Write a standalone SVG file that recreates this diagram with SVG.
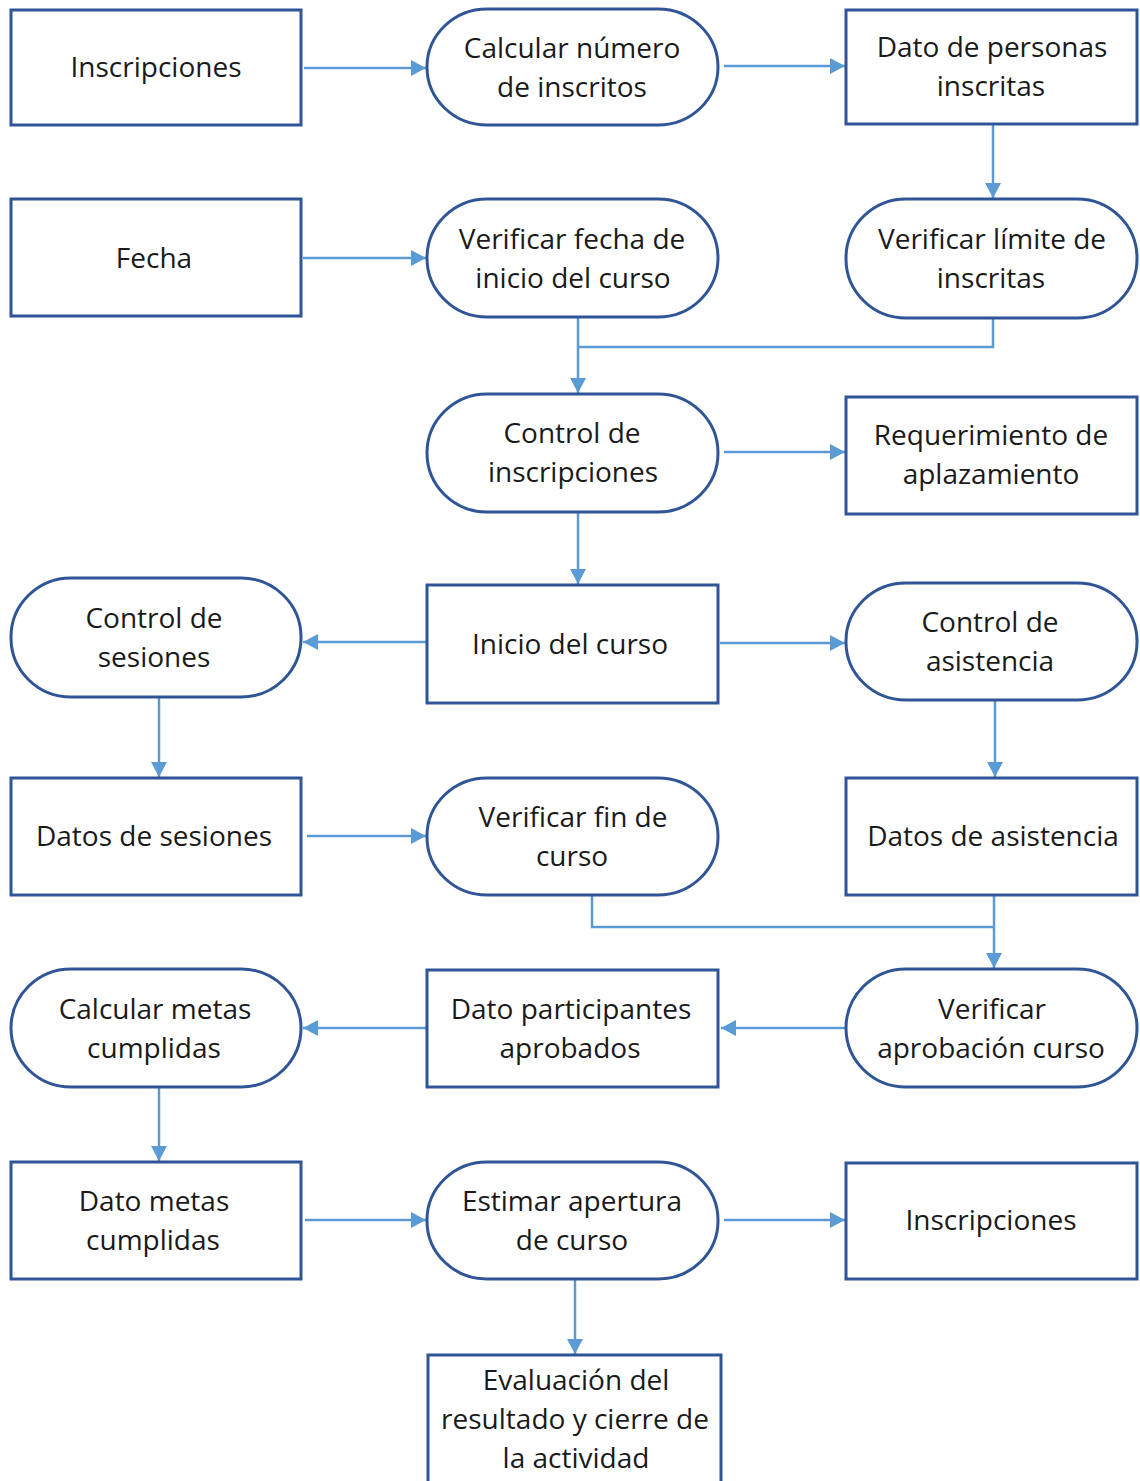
<svg xmlns="http://www.w3.org/2000/svg" width="1140" height="1481" viewBox="0 0 1140 1481">
  <style>
    .box { fill: #ffffff; stroke: #2f5597; stroke-width: 3; }
    .lbl { font-family: "Open Sans", "Liberation Sans", sans-serif; font-size: 28px; fill: #1a1a1a; text-anchor: middle; }
    .conn { fill: none; stroke: #5b9bd5; stroke-width: 2.5; }
    .arrow { marker-end: url(#head); }
  </style>
  <defs>
    <marker id="head" markerUnits="userSpaceOnUse" markerWidth="15" markerHeight="16" refX="15" refY="8" orient="auto">
      <path d="M0,0 L15,8 L0,16 z" fill="#5b9bd5"/>
    </marker>
  </defs>
  <rect width="1140" height="1481" fill="#ffffff"/>

  <!-- connectors -->
  <g id="connectors">
    <line class="conn arrow" x1="304" y1="68" x2="426" y2="68"/>
    <line class="conn arrow" x1="724" y1="66" x2="845" y2="66"/>
    <line class="conn arrow" x1="993" y1="125" x2="993" y2="198"/>
    <line class="conn arrow" x1="303" y1="258" x2="426" y2="258"/>
    <polyline class="conn" points="993,318 993,347 578,347"/>
    <line class="conn arrow" x1="578" y1="317" x2="578" y2="393"/>
    <line class="conn arrow" x1="724" y1="452" x2="845" y2="452"/>
    <line class="conn arrow" x1="578" y1="512" x2="578" y2="584"/>
    <line class="conn arrow" x1="426" y1="642" x2="303" y2="642"/>
    <line class="conn arrow" x1="720" y1="643" x2="845" y2="643"/>
    <line class="conn arrow" x1="159" y1="697" x2="159" y2="777"/>
    <line class="conn arrow" x1="995" y1="700" x2="995" y2="777"/>
    <line class="conn arrow" x1="307" y1="836" x2="426" y2="836"/>
    <polyline class="conn" points="592,895 592,927 994,927"/>
    <line class="conn arrow" x1="994" y1="895" x2="994" y2="968"/>
    <line class="conn arrow" x1="845" y1="1028" x2="721" y2="1028"/>
    <line class="conn arrow" x1="426" y1="1028" x2="303" y2="1028"/>
    <line class="conn arrow" x1="159" y1="1087" x2="159" y2="1161"/>
    <line class="conn arrow" x1="305" y1="1220" x2="426" y2="1220"/>
    <line class="conn arrow" x1="724" y1="1220" x2="845" y2="1220"/>
    <line class="conn arrow" x1="575" y1="1279" x2="575" y2="1354"/>
  </g>

  <!-- row 1 -->
  <g id="n-inscripciones-1">
    <rect class="box" x="11" y="10" width="290" height="115"/>
    <text class="lbl" x="156" y="77">Inscripciones</text>
  </g>
  <g id="n-calcular-inscritos">
    <rect class="box" x="427" y="9" width="291" height="116" rx="60" ry="58"/>
    <text class="lbl" x="572" y="58">Calcular número</text>
    <text class="lbl" x="572" y="97">de inscritos</text>
  </g>
  <g id="n-dato-personas">
    <rect class="box" x="846" y="10" width="291" height="114"/>
    <text class="lbl" x="992" y="57">Dato de personas</text>
    <text class="lbl" x="991" y="96">inscritas</text>
  </g>

  <!-- row 2 -->
  <g id="n-fecha">
    <rect class="box" x="11" y="199" width="290" height="117"/>
    <text class="lbl" x="154" y="268">Fecha</text>
  </g>
  <g id="n-verificar-fecha">
    <rect class="box" x="427" y="199" width="291" height="118" rx="60" ry="59"/>
    <text class="lbl" x="572" y="249">Verificar fecha de</text>
    <text class="lbl" x="573" y="288">inicio del curso</text>
  </g>
  <g id="n-verificar-limite">
    <rect class="box" x="846" y="199" width="291" height="119" rx="60" ry="59"/>
    <text class="lbl" x="992" y="249">Verificar límite de</text>
    <text class="lbl" x="991" y="288">inscritas</text>
  </g>

  <!-- row 3 -->
  <g id="n-control-inscripciones">
    <rect class="box" x="427" y="394" width="291" height="118" rx="60" ry="59"/>
    <text class="lbl" x="572" y="443">Control de</text>
    <text class="lbl" x="573" y="482">inscripciones</text>
  </g>
  <g id="n-requerimiento">
    <rect class="box" x="846" y="397" width="291" height="117"/>
    <text class="lbl" x="991" y="445">Requerimiento de</text>
    <text class="lbl" x="991" y="484">aplazamiento</text>
  </g>

  <!-- row 4 -->
  <g id="n-control-sesiones">
    <rect class="box" x="11" y="578" width="290" height="119" rx="60" ry="59"/>
    <text class="lbl" x="154" y="628">Control de</text>
    <text class="lbl" x="154" y="667">sesiones</text>
  </g>
  <g id="n-inicio">
    <rect class="box" x="427" y="585" width="291" height="118"/>
    <text class="lbl" x="570" y="654">Inicio del curso</text>
  </g>
  <g id="n-control-asistencia">
    <rect class="box" x="846" y="583" width="291" height="117" rx="60" ry="58"/>
    <text class="lbl" x="990" y="632">Control de</text>
    <text class="lbl" x="990" y="671">asistencia</text>
  </g>

  <!-- row 5 -->
  <g id="n-datos-sesiones">
    <rect class="box" x="11" y="778" width="290" height="117"/>
    <text class="lbl" x="154" y="846">Datos de sesiones</text>
  </g>
  <g id="n-verificar-fin">
    <rect class="box" x="427" y="778" width="291" height="117" rx="60" ry="58"/>
    <text class="lbl" x="573" y="827">Verificar fin de</text>
    <text class="lbl" x="572" y="866">curso</text>
  </g>
  <g id="n-datos-asistencia">
    <rect class="box" x="846" y="778" width="291" height="117"/>
    <text class="lbl" x="993" y="846">Datos de asistencia</text>
  </g>

  <!-- row 6 -->
  <g id="n-calcular-metas">
    <rect class="box" x="11" y="969" width="290" height="118" rx="60" ry="59"/>
    <text class="lbl" x="155" y="1019">Calcular metas</text>
    <text class="lbl" x="154" y="1058">cumplidas</text>
  </g>
  <g id="n-dato-participantes">
    <rect class="box" x="427" y="970" width="291" height="117"/>
    <text class="lbl" x="571" y="1019">Dato participantes</text>
    <text class="lbl" x="570" y="1058">aprobados</text>
  </g>
  <g id="n-verificar-aprobacion">
    <rect class="box" x="846" y="969" width="291" height="118" rx="60" ry="59"/>
    <text class="lbl" x="992" y="1019">Verificar</text>
    <text class="lbl" x="991" y="1058">aprobación curso</text>
  </g>

  <!-- row 7 -->
  <g id="n-dato-metas">
    <rect class="box" x="11" y="1162" width="290" height="117"/>
    <text class="lbl" x="154" y="1211">Dato metas</text>
    <text class="lbl" x="153" y="1250">cumplidas</text>
  </g>
  <g id="n-estimar">
    <rect class="box" x="427" y="1162" width="291" height="117" rx="60" ry="58"/>
    <text class="lbl" x="572" y="1211">Estimar apertura</text>
    <text class="lbl" x="572" y="1250">de curso</text>
  </g>
  <g id="n-inscripciones-2">
    <rect class="box" x="846" y="1163" width="291" height="116"/>
    <text class="lbl" x="991" y="1230">Inscripciones</text>
  </g>

  <!-- row 8 -->
  <g id="n-evaluacion">
    <rect class="box" x="428" y="1355" width="293" height="150"/>
    <text class="lbl" x="576" y="1390">Evaluación del</text>
    <text class="lbl" x="575" y="1429">resultado y cierre de</text>
    <text class="lbl" x="576" y="1468">la actividad</text>
  </g>
</svg>
